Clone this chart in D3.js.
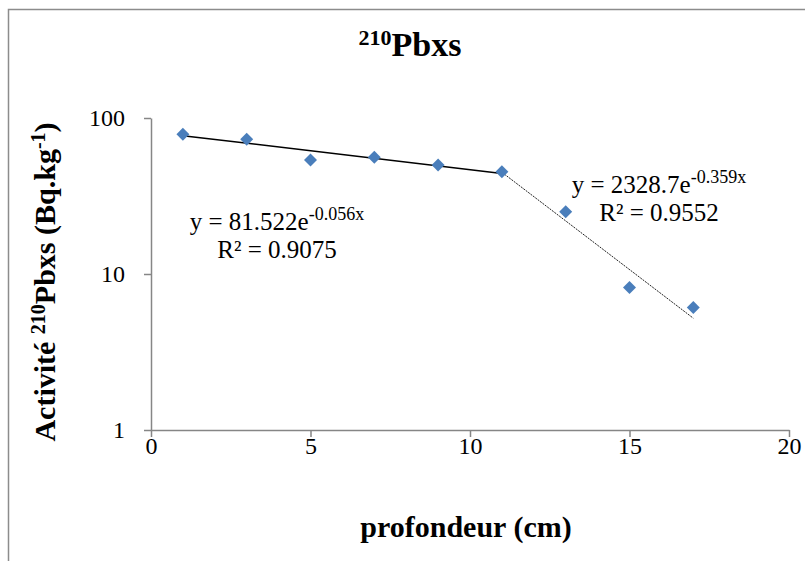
<!DOCTYPE html>
<html>
<head>
<meta charset="utf-8">
<script src="https://cdn.jsdelivr.net/npm/d3@7"></script>
<style>
  body { margin: 0; background: #fff; }
  svg text { font-family: "Liberation Serif", "Times New Roman", serif; fill: #000; }
</style>
</head>
<body>
<div id="chart"></div>
<script>
// data
const depth = [1, 3, 5, 7, 9, 11, 13, 15, 17];
const activity = [78.6, 73.0, 53.8, 56.0, 50.0, 45.3, 25.1, 8.2, 6.1];
const xTicks = [0, 5, 10, 15, 20];
const yTicks = [1, 10, 100];

// exponential trend lines y = a * e^(b x), as printed on the chart
const fitA = [81.522, 2328.7];
const fitB = [-0.056, -0.359];
const fitFrom = [1, 11];
const fitTo = [11, 17];
const fitA_label = ["81.522", "2328.7"];
const fitB_label = ["-0.056x", "-0.359x"];
const fitR2 = ["0.9075", "0.9552"];

const width = 805, height = 561;
const margin = {top: 118, right: 16, bottom: 131, left: 151};
const serif = '"Liberation Serif", "Times New Roman", serif';

const svg = d3.select("#chart").append("svg")
  .attr("width", width)
  .attr("height", height);

// chart border
svg.append("rect")
  .attr("x", 8.5).attr("y", 9.5)
  .attr("width", 900).attr("height", 700)
  .attr("fill", "none")
  .attr("stroke", "#8c8c8c")
  .attr("stroke-width", 1.5);

const x = d3.scaleLinear().domain([0, 20]).range([margin.left, width - margin.right]);
const y = d3.scaleLog().domain([1, 100]).range([height - margin.bottom, margin.top]);

// axes
const xAxis = svg.append("g")
  .attr("transform", `translate(0,${y(1)})`)
  .call(d3.axisBottom(x).tickValues(xTicks).tickSize(7).tickSizeOuter(0).tickPadding(0));
const yAxis = svg.append("g")
  .attr("transform", `translate(${x(0)},0)`)
  .call(d3.axisLeft(y).tickValues(yTicks).tickSize(7).tickSizeOuter(0).tickPadding(19)
    .tickFormat(d3.format("d")));

[xAxis, yAxis].forEach(g => {
  g.attr("font-family", serif).attr("font-size", 24);
  g.select(".domain").attr("stroke", "#868686").attr("stroke-width", 1.5);
  g.selectAll(".tick line").attr("stroke", "#868686").attr("stroke-width", 1.5);
  g.selectAll(".tick text")
    .style("font-family", serif)
    .style("font-size", "24px")
    .attr("fill", "#000");
});

// trend lines
const line = d3.line().x(d => x(d[0])).y(d => y(d[1]));
fitA.forEach((a, i) => {
  const pts = [fitFrom[i], fitTo[i]].map(v => [v, a * Math.exp(fitB[i] * v)]);
  svg.append("path")
    .attr("d", line(pts))
    .attr("fill", "none")
    .attr("stroke", i == 0 ? "#000" : "#222")
    .attr("stroke-width", i == 0 ? 1.5 : 1)
    .attr("stroke-dasharray", i == 0 ? null : "2,1");
});

// markers
svg.append("g")
  .selectAll("path")
  .data(depth)
  .join("path")
    .attr("d", d3.symbol(d3.symbolSquare, 84))
    .attr("transform", (d, i) => `translate(${x(d)},${y(activity[i])}) rotate(45)`)
    .attr("fill", "#4a7ebb");

// equation labels
const eqPos = [[277, 230], [659, 193]];
eqPos.forEach((p, i) => {
  const t1 = svg.append("text")
    .attr("x", p[0]).attr("y", p[1])
    .attr("text-anchor", "middle")
    .style("font-size", "25px");
  t1.append("tspan").text(`y = ${fitA_label[i]}e`);
  t1.append("tspan").text(fitB_label[i])
    .attr("dy", -10).style("font-size", "18px");
  svg.append("text")
    .attr("x", p[0]).attr("y", p[1] + 28)
    .attr("text-anchor", "middle")
    .style("font-size", "25px")
    .text(`R² = ${fitR2[i]}`);
});

// title
const title = svg.append("text")
  .attr("x", 410).attr("y", 56)
  .attr("text-anchor", "middle")
  .style("font-size", "34px")
  .style("font-weight", "bold");
title.append("tspan").text("210").attr("dy", -11).style("font-size", "22px");
title.append("tspan").text("Pbxs").attr("dy", 11);

// x axis title
svg.append("text")
  .attr("x", 466).attr("y", 537)
  .attr("text-anchor", "middle")
  .style("font-size", "30px")
  .style("font-weight", "bold")
  .text("profondeur (cm)");

// y axis title
const yt = svg.append("text")
  .attr("transform", "translate(55,282) rotate(-90)")
  .attr("text-anchor", "middle")
  .style("font-size", "30px")
  .style("font-weight", "bold");
yt.append("tspan").text("Activité ");
yt.append("tspan").text("210").attr("dy", -10).style("font-size", "20px");
yt.append("tspan").text("Pbxs (Bq.kg").attr("dy", 10);
yt.append("tspan").text("-1").attr("dy", -10).style("font-size", "20px");
yt.append("tspan").text(")").attr("dy", 10);
</script>
</body>
</html>
